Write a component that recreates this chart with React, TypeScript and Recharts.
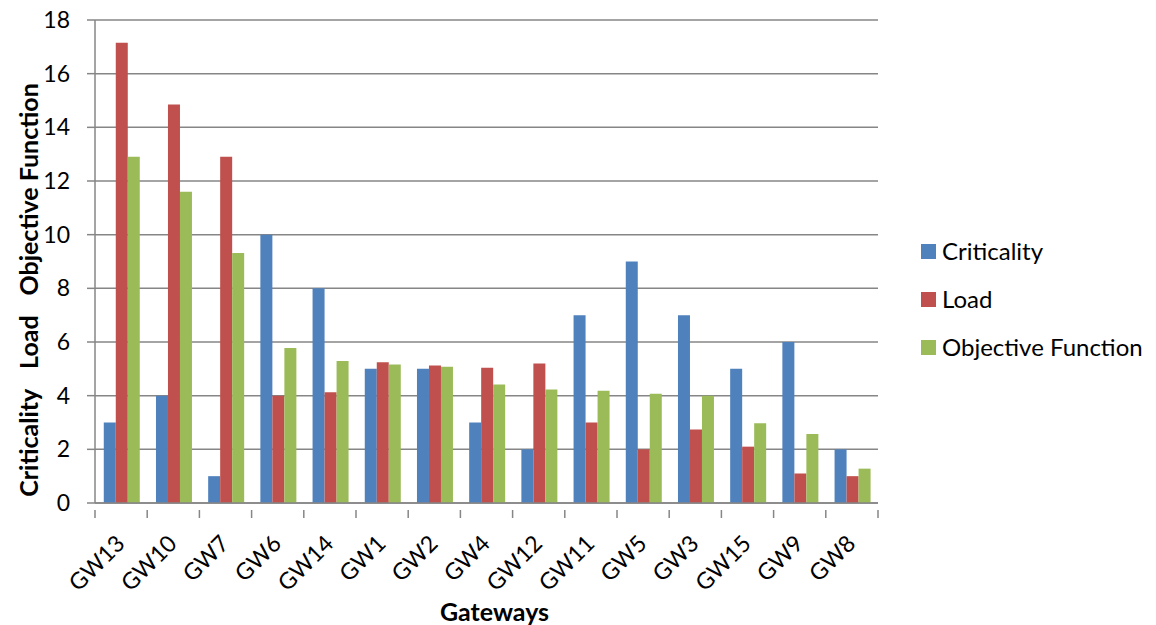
import React from "react";
import { BarChart, Bar, XAxis, YAxis, CartesianGrid, Legend } from "recharts";

const gateways = ["GW13", "GW10", "GW7", "GW6", "GW14", "GW1", "GW2", "GW4", "GW12", "GW11", "GW5", "GW3", "GW15", "GW9", "GW8"];
const criticality = [3, 4, 1, 10, 8, 5, 5, 3, 2, 7, 9, 7, 5, 6, 2];
const load = [17.15, 14.85, 12.9, 4.0, 4.13, 5.25, 5.12, 5.04, 5.2, 3.0, 2.0, 2.74, 2.1, 1.1, 1.0];
const objective = [12.9, 11.6, 9.32, 5.78, 5.29, 5.16, 5.08, 4.42, 4.23, 4.18, 4.07, 4.0, 2.97, 2.57, 1.28];
const yTicks = [0, 2, 4, 6, 8, 10, 12, 14, 16, 18];

const seriesInfo = [
  { key: "criticality", name: "Criticality", color: "#4F81BD" },
  { key: "load", name: "Load", color: "#C0504D" },
  { key: "objective", name: "Objective Function", color: "#9BBB59" },
];

const data = gateways.map((g, i) => ({
  name: g,
  criticality: criticality[i],
  load: load[i],
  objective: objective[i],
}));

const FONT = "Lato, 'Open Sans', sans-serif";
const AXIS = "#868686";

// Category tick: Excel-style separator marks between categories plus a slanted label
const XTick = (props: any) => {
  const { x, y, payload, index, visibleTicksCount } = props;
  const half = payload && payload.offset ? payload.offset : 26.1;
  const isLast = index === (visibleTicksCount ?? gateways.length) - 1;
  const tx = x - 8;
  const ty = y + 21;
  return (
    <g>
      <line x1={x - half} x2={x - half} y1={y - 1} y2={y + 7} stroke={AXIS} strokeWidth={1.5} />
      {isLast && <line x1={x + half} x2={x + half} y1={y - 1} y2={y + 7} stroke={AXIS} strokeWidth={1.5} />}
      <text
        x={tx}
        y={ty}
        transform={`rotate(-45, ${tx}, ${ty})`}
        textAnchor="end"
        dominantBaseline="hanging"
        fontSize={23}
        fontFamily={FONT}
        fill="#000"
      >
        {payload.value}
      </text>
    </g>
  );
};

const YTitle = (props: any) => {
  const { viewBox } = props;
  const cx = viewBox.x + 28;
  const cy = 290;
  return (
    <text
      x={cx}
      y={cy}
      transform={`rotate(-90, ${cx}, ${cy})`}
      textAnchor="middle"
      dominantBaseline="central"
      fontSize={25}
      fontWeight="bold"
      fontFamily={FONT}
      fill="#000"
    >
      <tspan>Criticality</tspan>
      <tspan dx={20}>Load</tspan>
      <tspan dx={20}>Objective Function</tspan>
    </text>
  );
};

const XTitle = (props: any) => {
  const { viewBox } = props;
  return (
    <text
      x={viewBox.x + viewBox.width / 2 + 8}
      y={viewBox.y + 118}
      textAnchor="middle"
      fontSize={25}
      fontWeight="bold"
      fontFamily={FONT}
      fill="#000"
    >
      Gateways
    </text>
  );
};

const LegendContent = () => (
  <div style={{ fontFamily: FONT, fontSize: 24, color: "#000" }}>
    {seriesInfo.map((s) => (
      <div key={s.key} style={{ height: 48, display: "flex", alignItems: "center" }}>
        <span style={{ width: 15, height: 15, background: s.color, display: "inline-block", marginRight: 6, flexShrink: 0 }} />
        <span style={{ lineHeight: "24px", whiteSpace: "nowrap" }}>{s.name}</span>
      </div>
    ))}
  </div>
);

export default function App() {
  return (
    <div style={{ position: "absolute", left: 0, top: 0 }}>
      <BarChart
        width={1156}
        height={625}
        data={data}
        margin={{ top: 20, right: 278, left: 0, bottom: 0 }}
        barCategoryGap="16.8%"
        barGap={0}
      >
        <CartesianGrid vertical={false} stroke={AXIS} strokeWidth={1.5} />
        <XAxis
          dataKey="name"
          height={122}
          interval={0}
          axisLine={{ stroke: AXIS, strokeWidth: 1.5 }}
          tickLine={false}
          tick={<XTick />}
          label={<XTitle />}
        />
        <YAxis
          width={95}
          domain={[0, 18]}
          ticks={yTicks}
          interval={0}
          axisLine={{ stroke: AXIS, strokeWidth: 1.5 }}
          tickLine={{ stroke: AXIS, strokeWidth: 1.5 }}
          tickSize={8}
          tickMargin={17}
          tick={{ fontSize: 23, fontFamily: FONT, fill: "#000" }}
          label={<YTitle />}
        />
        <Legend
          layout="vertical"
          align="center"
          verticalAlign="middle"
          content={<LegendContent />}
          wrapperStyle={{ left: 921, top: 227, width: 235 }}
        />
        {seriesInfo.map((s) => (
          <Bar key={s.key} dataKey={s.key} name={s.name} fill={s.color} isAnimationActive={false} />
        ))}
      </BarChart>
    </div>
  );
}
